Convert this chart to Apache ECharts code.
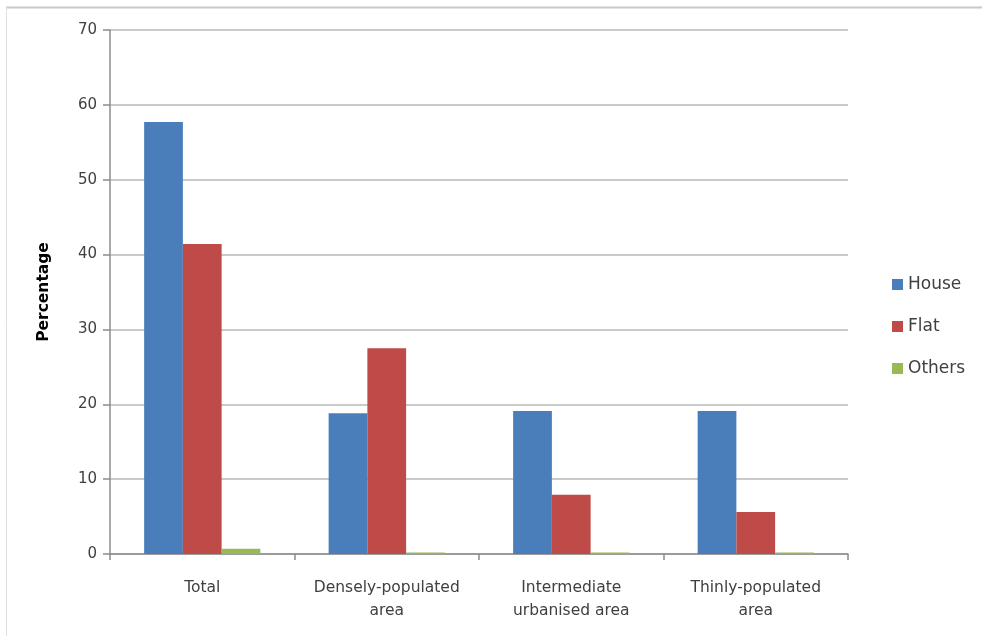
<!DOCTYPE html>
<html>
<head>
<meta charset="utf-8">
<script src="https://cdn.jsdelivr.net/npm/echarts@6/dist/echarts.min.js"></script>
<style>html,body{margin:0;padding:0;background:#fff;}#chart{width:982px;height:636px;}</style>
</head>
<body>
<div id="chart"></div>
<script>
const categories = ['Total', 'Densely-populated\narea', 'Intermediate\nurbanised area', 'Thinly-populated\narea'];
const house = [57.7, 18.8, 19.1, 19.1];
const flat = [41.4, 27.5, 7.9, 5.6];
const others = [0.7, 0.2, 0.2, 0.2];
const seriesNames = ['House', 'Flat', 'Others'];
const colors = ['#4a7ebb', '#be4b48', '#98b954'];

const chart = echarts.init(document.getElementById('chart'));
const font = 'DejaVu Sans';
chart.setOption({
  animation: false,
  color: colors,
  graphic: [
    { type: 'line', shape: { x1: 6, y1: 7.5, x2: 982, y2: 7.5 }, style: { stroke: '#c8c8c8', lineWidth: 2 } },
    { type: 'line', shape: { x1: 6.5, y1: 7, x2: 6.5, y2: 636 }, style: { stroke: '#e0e0e0', lineWidth: 1 } }
  ],
  grid: { left: 110, right: 134, top: 30, bottom: 82 },
  legend: {
    orient: 'vertical',
    left: 887,
    top: 271,
    itemWidth: 11,
    itemHeight: 11,
    itemGap: 25,
    icon: 'rect',
    textStyle: { fontFamily: font, fontSize: 17, color: '#404040' },
    data: seriesNames
  },
  xAxis: {
    type: 'category',
    data: categories,
    axisLine: { lineStyle: { color: '#8c8c8c', width: 1.5 } },
    axisTick: { show: true, interval: 0, length: 6, lineStyle: { color: '#8c8c8c', width: 1.5 } },
    axisLabel: { interval: 0, fontFamily: font, fontSize: 15.5, color: '#404040', margin: 22, lineHeight: 23 }
  },
  yAxis: {
    type: 'value',
    min: 0, max: 70, interval: 10,
    name: 'Percentage',
    nameLocation: 'middle',
    nameGap: 58,
    nameTextStyle: { fontFamily: font, fontSize: 15.5, fontWeight: 'bold', color: '#000' },
    axisLine: { show: true, lineStyle: { color: '#8c8c8c', width: 1.5 } },
    axisTick: { show: true, length: 7, lineStyle: { color: '#8c8c8c', width: 1.5 } },
    axisLabel: { fontFamily: font, fontSize: 15, color: '#404040', margin: 13 },
    splitLine: { lineStyle: { color: '#b8b8b8', width: 1.5 } }
  },
  series: [
    { name: 'House', type: 'bar', data: house, barGap: '0%', barCategoryGap: '37%' },
    { name: 'Flat', type: 'bar', data: flat, barGap: '0%', barCategoryGap: '37%' },
    { name: 'Others', type: 'bar', data: others, barGap: '0%', barCategoryGap: '37%' }
  ]
});
</script>
</body>
</html>
